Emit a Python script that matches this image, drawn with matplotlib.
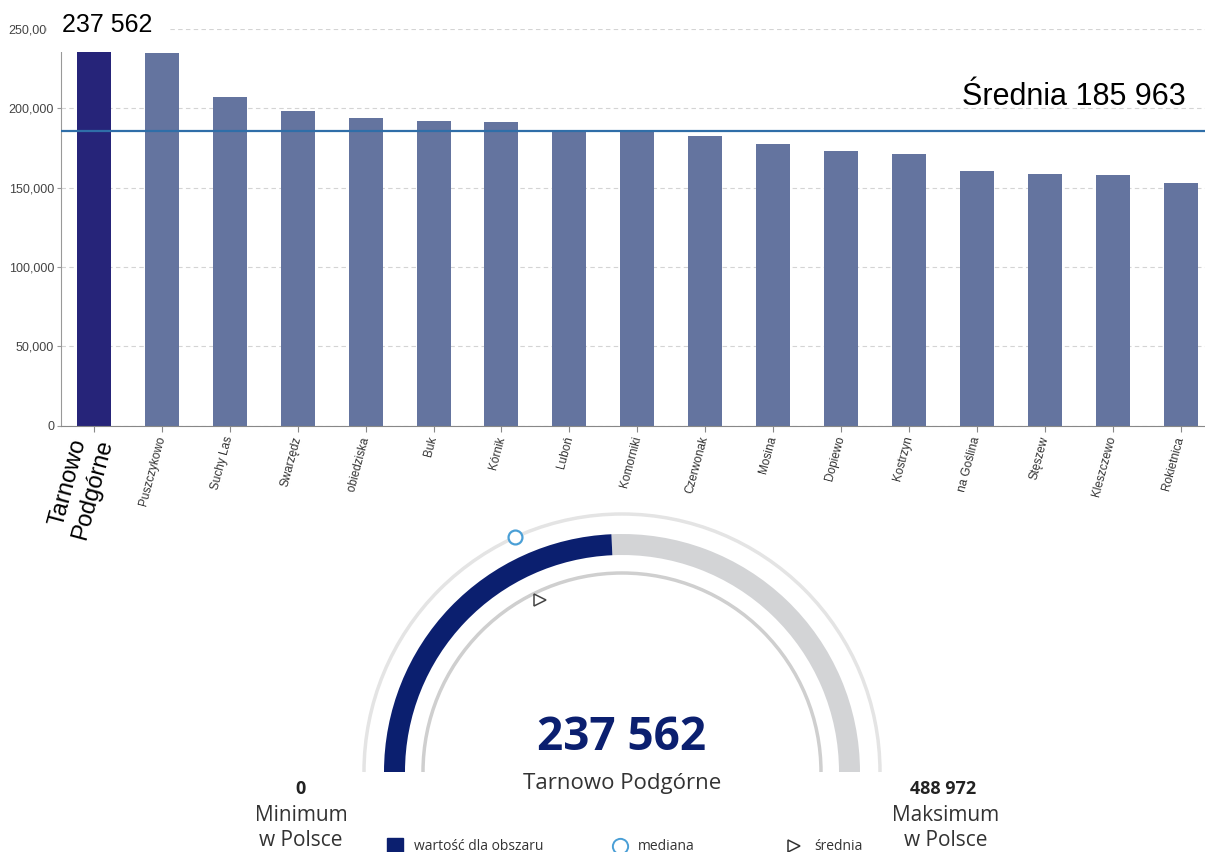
import numpy as np
import matplotlib.pyplot as plt
from matplotlib.patches import Wedge, Arc
from matplotlib.transforms import Bbox, TransformedBbox

# gminy powiatu - dochód na mieszkańca
gminy = ["Tarnowo\nPodgórne", "Puszczykowo", "Suchy Las", "Swarzędz", "Pobiedziska",
         "Buk", "Kórnik", "Luboń", "Komorniki", "Czerwonak", "Mosina", "Dopiewo",
         "Kostrzyn", "Murowana Goślina", "Stęszew", "Kleszczewo", "Rokietnica"]
wartosci = [237562, 234680, 207310, 198490, 193700, 192180, 191170, 186500, 185900,
            182530, 177300, 173270, 171180, 160660, 158570, 158130, 152710]
srednia = 185963
y_ticks = [0, 50000, 100000, 150000, 200000, 250000]

# wskaźnik (gauge) dla obszaru na tle Polski
wartosc = 237562
obszar = "Tarnowo Podgórne"
minimum = 0
maksimum = 488972
mediana_pl = 178000
srednia_pl = 175000

W, H = 1205, 852
fig = plt.figure(figsize=(W / 100, H / 100), dpi=100)
fig.patch.set_facecolor("white")

# ---------- wykres słupkowy ----------
ax = fig.add_axes([61 / W, (H - 425.5) / H, (W - 61) / W, (425.5 - 29) / H])
ax.set_facecolor("none")
x = np.arange(len(gminy))
kolory = ["#262479"] + ["#64749f"] * (len(gminy) - 1)
ax.bar(x, wartosci, width=0.5, color=kolory, zorder=2)
ax.axhline(srednia, color="#2f6ea8", lw=1.6, zorder=3)

ax.set_xlim(-0.486, 16.36)
ax.set_ylim(0, 250000)
ax.set_yticks(y_ticks)
ax.set_yticklabels([f"{v:,}" for v in y_ticks], fontsize=9, color="#444444",
                   family="Liberation Sans")
ax.yaxis.grid(True, ls=(0, (4, 3)), color="#d4d4d4", lw=0.8, zorder=0)
ax.set_axisbelow(True)
for s in ["top", "right"]:
    ax.spines[s].set_visible(False)
ax.spines["left"].set_bounds(0, 237000)
ax.spines["left"].set_color("#999999")
ax.spines["bottom"].set_color("#888888")
ax.tick_params(axis="y", length=3, color="#999999", pad=2)
ax.tick_params(axis="x", length=4, color="#888888", pad=4)

ax.set_xticks(x)
labels = ax.set_xticklabels(gminy, rotation=75, ha="right", va="center",
                            rotation_mode="anchor", fontsize=8.5, color="#333333",
                            family="Liberation Sans")
labels[0].set_fontsize(17)
labels[0].set_color("black")
labels[0].set_multialignment("center")
# długie nazwy obcięte pod osią
clip = TransformedBbox(Bbox([[0, (H - 492) / H], [1, 1]]), fig.transFigure)
for lab in labels:
    if lab.get_text() in ("Pobiedziska", "Murowana Goślina"):
        lab.set_clip_box(clip)
        lab.set_clip_on(True)

fig.text(62 / W, 1 - 25 / H, f"{wartosci[0]:,}".replace(",", " "), fontsize=18,
         family="Liberation Sans", va="center", ha="left", zorder=5,
         bbox=dict(facecolor="white", edgecolor="none", pad=11))
ax.text(0.983, srednia + 21000, f"Średnia {srednia:,}".replace(",", " "),
        transform=ax.get_yaxis_transform(), ha="right", va="center",
        fontsize=22, family="Liberation Sans")

# ---------- wskaźnik ----------
gy = H - 505
g = fig.add_axes([0, 0, 1, gy / H])
g.set_xlim(0, W)
g.set_ylim(0, gy)
g.axis("off")

cx, cy = 622, H - 772
def kat(v):
    return 180 - (v - minimum) / (maksimum - minimum) * 180

g.add_patch(Arc((cx, cy), 2 * 258, 2 * 258, theta1=0, theta2=180, color="#e4e4e4", lw=2.5))
g.add_patch(Arc((cx, cy), 2 * 199, 2 * 199, theta1=0, theta2=180, color="#cfcfcf", lw=2.5))
g.add_patch(Wedge((cx, cy), 238, 0, kat(wartosc), width=21, color="#d3d4d6", lw=0))
g.add_patch(Wedge((cx, cy), 238, kat(wartosc), 180, width=21, color="#0b1f6f", lw=0))

a = np.radians(kat(mediana_pl))
g.plot(cx + 258 * np.cos(a), cy + 258 * np.sin(a), "o", ms=10, mfc="white",
       mec="#4a9fd6", mew=1.6, clip_on=False)
a = np.radians(kat(srednia_pl))
g.plot(cx + 191 * np.cos(a), cy + 191 * np.sin(a), ">", ms=8, mfc="white",
       mec="#444444", mew=1.1, clip_on=False)

g.text(cx, H - 737, f"{wartosc:,}".replace(",", " "), ha="center", va="center",
       fontsize=33, fontweight="bold", color="#0b1f6f", family="Open Sans")
g.text(cx, H - 784, obszar, ha="center", va="center", fontsize=16,
       color="#333333", family="Open Sans")

g.text(301, H - 789, f"{minimum}", ha="center", va="center", fontsize=13,
       fontweight="bold", color="#222222", family="Open Sans")
g.text(301, H - 828, "Minimum\nw Polsce", ha="center", va="center", fontsize=15,
       color="#333333", family="Open Sans", linespacing=1.27)
g.text(943, H - 789, f"{maksimum:,}".replace(",", " "), ha="center", va="center",
       fontsize=13, fontweight="bold", color="#222222", family="Open Sans")
g.text(946, H - 828, "Maksimum\nw Polsce", ha="center", va="center", fontsize=15,
       color="#333333", family="Open Sans", linespacing=1.27)

# legenda
ly = H - 846
g.plot(395, ly, "s", ms=11, color="#0b1f6f", clip_on=False)
g.text(414, ly, "wartość dla obszaru", va="center", fontsize=10, color="#333333",
       family="Open Sans")
g.plot(620, ly, "o", ms=11, mfc="white", mec="#4a9fd6", mew=1.4, clip_on=False)
g.text(638, ly, "mediana", va="center", fontsize=10, color="#333333", family="Open Sans")
g.plot(794, ly, ">", ms=8, mfc="white", mec="#333333", mew=1.1, clip_on=False)
g.text(814, ly, "średnia", va="center", fontsize=10, color="#333333", family="Open Sans")

fig.savefig("out.png", dpi=100)
